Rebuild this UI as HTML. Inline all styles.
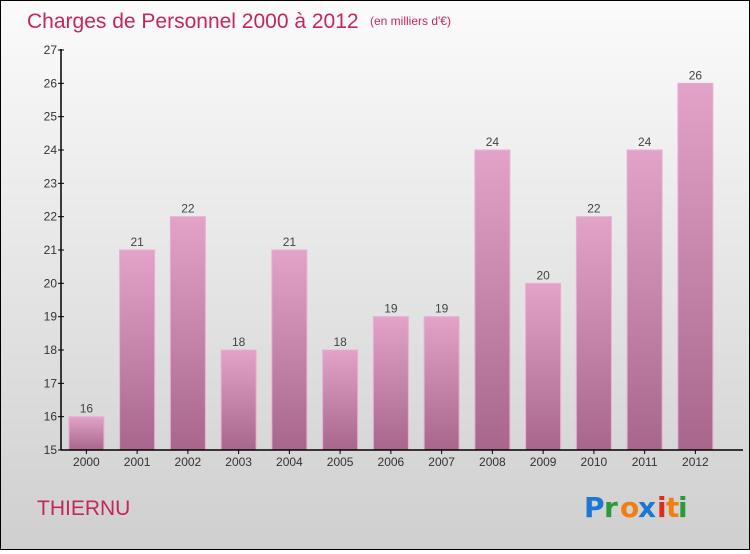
<!DOCTYPE html>
<html><head><meta charset="utf-8"><style>
body{margin:0;width:750px;height:550px;overflow:hidden;font-family:"Liberation Sans",sans-serif}
#c{position:absolute;left:0;top:0;width:748px;height:548px;border:1px solid #000;background:linear-gradient(#fbfbfb,#cfcfcf)}
</style></head><body>
<div id="c">
<svg width="748" height="548">
<defs><linearGradient id="bg" x1="0" y1="0" x2="0" y2="1"><stop offset="0" stop-color="#e3a3c8"/><stop offset="1" stop-color="#a8668c"/></linearGradient></defs>
<text x="26" y="27" font-size="21" fill="#c4265d">Charges de Personnel 2000 à 2012</text>
<text x="369" y="24" font-size="12" fill="#c4265d">(en milliers d'€)</text>
<text x="36" y="514" font-size="21" fill="#c4265d">THIERNU</text>
<g font-size="28" font-weight="bold" font-family="'DejaVu Sans',sans-serif">
<text x="583" y="516" fill="#1a77d4">P</text><text x="603" y="516" fill="#2a9a3a">r</text><text x="619" y="516" fill="#f07f10">o</text><text x="637" y="516" fill="#1a77d4">x</text><text x="656" y="516" fill="#e02a20">i</text><text x="665" y="516" fill="#f07f10">t</text><text x="677" y="516" fill="#2a9a3a">i</text></g>
<g id="plot"></g>
</svg></div>
<script>
const categories=["2000","2001","2002","2003","2004","2005","2006","2007","2008","2009","2010","2011","2012"];
const values=[16,21,22,18,21,18,19,19,24,20,22,24,26];
const yTicks=[15,16,17,18,19,20,21,22,23,24,25,26,27];
const x0=60,band=50.75,yMin=15,yMax=27,yB=449,yT=49;
const y=v=>yB-(v-yMin)*(yB-yT)/(yMax-yMin);
const xc=i=>x0+band*(i+0.5);
const g=document.getElementById('plot'),NS="http://www.w3.org/2000/svg";
function mk(t,a,txt){const e=document.createElementNS(NS,t);for(const k in a)e.setAttribute(k,a[k]);if(txt!=null)e.textContent=txt;g.appendChild(e);return e;}
values.forEach((v,i)=>{
const r=mk('rect',{x:xc(i)-17.5,y:y(v),width:35,height:yB-y(v),fill:'url(#bg)',stroke:'#e7b0d0','stroke-width':1});


const t=mk('text',{x:xc(i),y:y(v)-4,'text-anchor':'middle','font-size':12,fill:'#444'},v);


const l=mk('text',{x:xc(i),y:yB+16,'text-anchor':'middle','font-size':12,fill:'#333'},categories[i]);


mk('line',{x1:xc(i),x2:xc(i),y1:yB,y2:yB+4,stroke:'#000'});
});
yTicks.forEach(v=>{
mk('line',{x1:x0-3,x2:x0+3,y1:y(v),y2:y(v),stroke:'#000'});
const t=mk('text',{x:x0-4,y:y(v)+4,'text-anchor':'end','font-size':12,fill:'#333'},v);


});
const ya=mk('line',{x1:x0,x2:x0,y1:yT-1,y2:yB,stroke:'#000','stroke-width':1.5});


const xa=mk('line',{x1:x0,x2:742,y1:yB,y2:yB,stroke:'#000','stroke-width':1.5});


</script>
</body></html>
